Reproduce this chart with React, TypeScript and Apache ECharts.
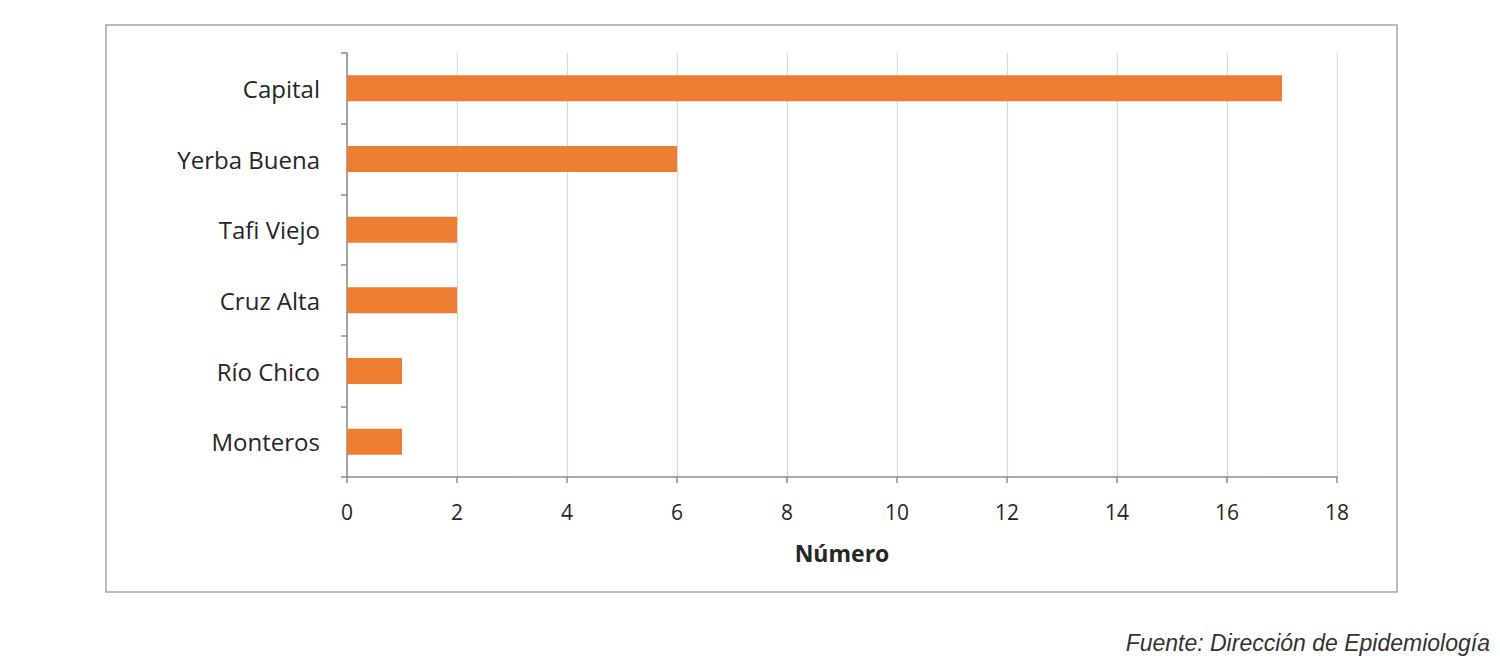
import React, { useEffect, useRef } from "react";
import * as echarts from "echarts";

const categories = ["Capital", "Yerba Buena", "Tafi Viejo", "Cruz Alta", "Río Chico", "Monteros"];
const values = [17, 6, 2, 2, 1, 1];
const axisName = "Número";
const sourceText = "Fuente: Dirección de Epidemiología";

export default function App() {
  const ref = useRef<HTMLDivElement>(null);
  useEffect(() => {
    if (!ref.current) return;
    const chart = echarts.init(ref.current, undefined, { renderer: "svg" });
    chart.setOption({
      animation: false,
      backgroundColor: "#ffffff",
      grid: { left: 347, right: 163, top: 53, bottom: 189, containLabel: false },
      xAxis: {
        type: "value",
        min: 0,
        max: 18,
        interval: 2,
        name: axisName,
        nameLocation: "middle",
        nameGap: 64,
        nameTextStyle: { fontFamily: "Open Sans", fontSize: 23, fontWeight: "bold", color: "#262626" },
        axisLine: { show: true, lineStyle: { color: "#8c8c8c", width: 1.5 } },
        axisTick: { show: true, length: 6, lineStyle: { color: "#8c8c8c", width: 1.5 } },
        axisLabel: { fontFamily: "Open Sans", fontSize: 21, color: "#262626", margin: 24 },
        splitLine: { show: true, lineStyle: { color: "#d9d9d9", width: 1.2 } },
      },
      yAxis: {
        type: "category",
        data: categories,
        inverse: true,
        axisLine: { show: true, lineStyle: { color: "#8c8c8c", width: 1.5 } },
        axisTick: { show: true, length: 6, inside: false, lineStyle: { color: "#8c8c8c", width: 1.5 } },
        axisLabel: { fontFamily: "Open Sans", fontSize: 24, color: "#262626", margin: 27 },
        splitLine: { show: false },
      },
      series: [
        {
          type: "bar",
          data: values,
          barWidth: 26,
          itemStyle: { color: "#ED7D31" },
        },
      ],
      graphic: [
        {
          type: "rect",
          shape: { x: 106, y: 25, width: 1291, height: 567 },
          style: { fill: "none", stroke: "#a6a6a6", lineWidth: 1.5 },
          silent: true,
        },
        {
          type: "text",
          x: 1490,
          y: 643,
          style: {
            text: sourceText,
            fontFamily: "Liberation Sans",
            fontStyle: "italic",
            fontSize: 23,
            fill: "#333333",
            textAlign: "right",
            textVerticalAlign: "middle",
          },
        },
      ],
    });
    return () => chart.dispose();
  }, []);
  return (
    <div
      ref={ref}
      style={{ position: "fixed", left: 0, top: 0, width: 1500, height: 666 }}
    />
  );
}
